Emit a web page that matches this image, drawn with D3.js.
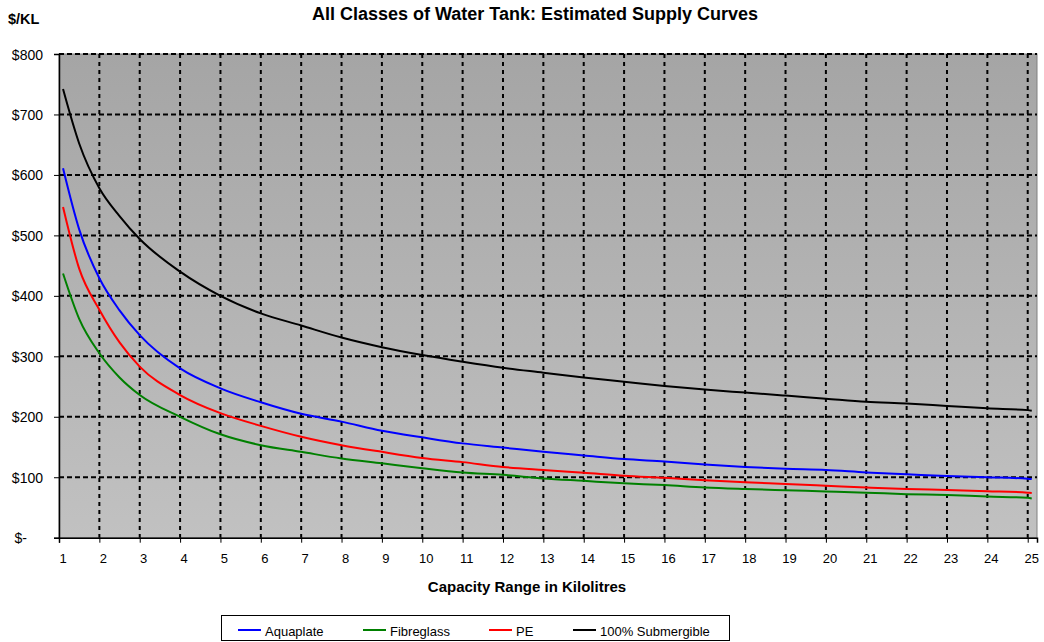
<!DOCTYPE html>
<html>
<head>
<meta charset="utf-8">
<script src="https://cdn.jsdelivr.net/npm/d3@7"></script>
<style>
  body { margin: 0; background: #fff; }
  svg { font-family: "Liberation Sans", Arial, sans-serif; }
</style>
</head>
<body>
<div id="chart"></div>
<script>
// Water tank supply curves - Excel style line chart

const capacity = [1.1, 1.5, 2, 2.5, 3, 4, 5, 6, 7, 8, 9, 10, 11, 12, 13, 14, 15, 16, 17, 18, 19, 20, 21, 22, 23, 24, 25, 25.1];
const aquaplate = [611, 510, 429, 376, 335, 280, 247, 224, 205, 192, 177, 166, 156, 149, 142, 136, 130, 126, 121, 117, 114, 112, 108, 105, 102, 100, 97.6, 97];
const fibreglass = [437, 362, 305, 265, 236, 200, 171, 153, 142, 131, 123, 115, 108, 104, 98, 94, 90, 87, 83, 80.5, 78.5, 76.5, 74.5, 72, 70.6, 68, 66, 65];
const pe = [547, 445, 377, 323, 283, 236, 206, 185, 167, 153, 142, 132, 125, 117, 112, 107.5, 102.5, 99, 95, 91.6, 89, 86, 83, 80.5, 79, 77, 74.5, 74];
const submergible = [742, 652, 578, 532, 494, 440, 400, 371, 351, 331, 315, 302, 291, 281, 273, 265, 258, 251, 245, 240, 235, 230, 225, 222, 218, 214, 211, 210];

const seriesNames = ['Aquaplate', 'Fibreglass', 'PE', '100% Submergible'];
const seriesValues = [aquaplate, fibreglass, pe, submergible];
const seriesColors = ['#0000ff', '#008000', '#ff0000', '#000000'];

const xTicks = d3.range(1, 26);
const yTicks = [0, 100, 200, 300, 400, 500, 600, 700, 800];
const yTickLabel = v => v === 0 ? '$-' : `$${v}`;

const W = 1044, H = 642;
const plot = { left: 59, right: 1037, top: 54, bottom: 537.7 };

const svg = d3.select('#chart').append('svg')
  .attr('width', W)
  .attr('height', H);

const x = d3.scaleLinear().domain([1, 25.23]).range([plot.left, plot.right]);
const y = d3.scaleLinear().domain([0, 800]).range([plot.bottom, plot.top]);

// plot background gradient
const grad = svg.append('defs').append('linearGradient')
  .attr('id', 'bg').attr('x1', 0).attr('y1', 0).attr('x2', 0).attr('y2', 1);
grad.append('stop').attr('offset', '0%').attr('stop-color', '#a5a5a5');
grad.append('stop').attr('offset', '100%').attr('stop-color', '#c1c1c1');

svg.append('rect')
  .attr('x', plot.left)
  .attr('y', plot.top)
  .attr('width', plot.right - plot.left)
  .attr('height', plot.bottom - plot.top)
  .attr('fill', 'url(#bg)')
  .attr('stroke', '#808080')
  .attr('stroke-width', 1);

// gridlines
svg.append('g').selectAll('line')
  .data(xTicks.slice(1))
  .join('line')
  .attr('x1', d => x(d)).attr('x2', d => x(d))
  .attr('y1', plot.top).attr('y2', plot.bottom)
  .attr('stroke', '#000')
  .attr('stroke-width', 2)
  .attr('stroke-dasharray', '4,4');

svg.append('g').selectAll('line')
  .data(yTicks.slice(1))
  .join('line')
  .attr('x1', plot.left).attr('x2', plot.right)
  .attr('y1', d => y(d)).attr('y2', d => y(d))
  .attr('stroke', '#000')
  .attr('stroke-width', 2)
  .attr('stroke-dasharray', '5,3');

// axes
const yAxis = svg.append('g')
  .attr('transform', `translate(${plot.left},0)`)
  .call(d3.axisLeft(y).tickValues(yTicks).tickSize(5).tickFormat(''));
yAxis.select('.domain').attr('stroke', '#000').attr('stroke-width', 1.5);
yAxis.selectAll('.tick line').attr('stroke', '#000');

svg.append('g').selectAll('text')
  .data(yTicks)
  .join('text')
  .attr('x', d => d === 0 ? 27 : 43)
  .attr('y', d => y(d) + 5.5)
  .attr('text-anchor', 'end')
  .attr('font-size', '14px')
  .attr('fill', '#000')
  .text(yTickLabel);

const xAxis = svg.append('g')
  .attr('transform', `translate(0,${plot.bottom})`)
  .call(d3.axisBottom(x).tickValues(xTicks).tickSize(5).tickFormat(''));
xAxis.select('.domain').attr('stroke', '#000').attr('stroke-width', 1.5);
xAxis.selectAll('.tick line').attr('stroke', '#000');

svg.append('g').selectAll('text')
  .data(xTicks)
  .join('text')
  .attr('x', d => x(d) + 4)
  .attr('y', 562.5)
  .attr('text-anchor', 'middle')
  .attr('font-size', '13px')
  .attr('fill', '#000')
  .text(d => d);

// series
const line = d3.line()
  .x((d, i) => x(capacity[i]))
  .y(d => y(d))
  .curve(d3.curveMonotoneX);

svg.append('g').selectAll('path')
  .data(seriesValues)
  .join('path')
  .attr('d', d => line(d))
  .attr('fill', 'none')
  .attr('stroke', (d, i) => seriesColors[i])
  .attr('stroke-width', 2);

// titles
svg.append('text')
  .attr('x', 535).attr('y', 19.5)
  .attr('text-anchor', 'middle')
  .attr('font-size', '18px')
  .attr('font-weight', 'bold')
  .text('All Classes of Water Tank: Estimated Supply Curves');

svg.append('text')
  .attr('x', 8).attr('y', 23.5)
  .attr('font-size', '14.5px')
  .attr('font-weight', 'bold')
  .text('$/KL');

svg.append('text')
  .attr('x', 527).attr('y', 592)
  .attr('text-anchor', 'middle')
  .attr('font-size', '15px')
  .attr('font-weight', 'bold')
  .text('Capacity Range in Kilolitres');

// legend
const legend = svg.append('g');
legend.append('rect')
  .attr('x', 221.5).attr('y', 615.5)
  .attr('width', 508).attr('height', 25)
  .attr('fill', '#fff')
  .attr('stroke', '#000')
  .attr('stroke-width', 1);

const legendX = [238, 363, 489, 573];
const items = legend.selectAll('g')
  .data(seriesNames)
  .join('g')
  .attr('transform', (d, i) => `translate(${legendX[i]},631)`);
items.append('line')
  .attr('x1', 0).attr('x2', 23)
  .attr('y1', -1).attr('y2', -1)
  .attr('stroke', (d, i) => seriesColors[i])
  .attr('stroke-width', 2);
items.append('text')
  .attr('x', 27).attr('y', 5)
  .attr('font-size', '13px')
  .text(d => d);
</script>
</body>
</html>
